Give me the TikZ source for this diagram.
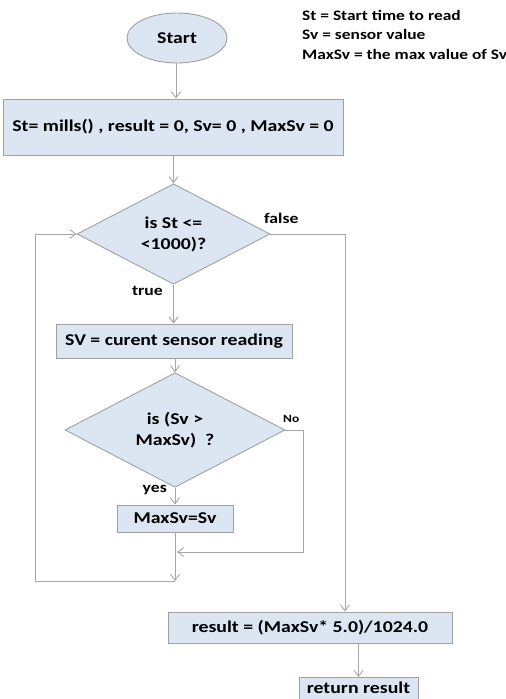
\documentclass[tikz,border=0pt]{standalone}
\usepackage{fontspec}
\setmainfont{Carlito}[FakeStretch=1.2]
\usetikzlibrary{shapes.geometric,arrows.meta,calc}
\definecolor{boxfill}{HTML}{DCE6F2}
\definecolor{boxline}{HTML}{A0A0A0}
\definecolor{conn}{HTML}{A6A6A6}
\tikzset{
  base/.style={draw=boxline, fill=boxfill, line width=0.9pt, font=\fontsize{16.5}{21}\selectfont\bfseries, inner sep=0pt, align=center},
  procbox/.style={base, rectangle},
  decbox/.style={base, diamond},
  termbox/.style={base, ellipse},
  conline/.style={draw=conn, line width=0.9pt},
  arr/.style={conline, -{Straight Barb[length=6pt,width=9pt]}},
  lbl/.style={font=\fontsize{14.7}{16}\selectfont\bfseries, inner sep=0pt}
}
\begin{document}
\begin{tikzpicture}[x=1pt,y=-1pt]
\useasboundingbox (0,0) rectangle (506,699);
\clip (0,0) rectangle (506,699);
\node[termbox, minimum width=100pt, minimum height=50pt] (start) at (177,38) {Start};
\node[anchor=north west, align=left, inner sep=0pt, font=\fontsize{14.5}{19.5}\selectfont\bfseries] (legend) at (302,10)
  {St = Start time to read\\Sv = sensor value\\MaxSv = the max value of Sv};
\node[procbox, minimum width=340pt, minimum height=56pt] (init) at (173,127) {St= mills() , result = 0, Sv= 0 , MaxSv = 0};
\node[decbox, minimum width=193pt, minimum height=88pt] (d1) at (173.5,234) {is St <=\\<1000)?};
\node[procbox, minimum width=236pt, minimum height=34pt] (sv) at (174,341) {SV = curent sensor reading};
\node[decbox, minimum width=220pt, minimum height=78pt] (d2) at (175,430) {is (Sv >\\MaxSv)\ \ ?};
\node[procbox, minimum width=116pt, minimum height=27pt] (mx) at (175,518.5) {MaxSv=Sv};
\node[procbox, minimum width=284pt, minimum height=31pt] (res) at (310,627.5) {result = (MaxSv* 5.0)/1024.0};
\node[procbox, anchor=north, minimum width=119pt, minimum height=30pt] (ret) at (358.5,677) {};
\node[anchor=base, inner sep=0pt, font=\fontsize{16.5}{21}\selectfont\bfseries] (rettext) at (358.5,693) {return result};
\coordinate (fx) at (345,0);
\coordinate (nx) at (303,0);
\coordinate (lx) at (35,0);
\coordinate (j) at (177,552);
\coordinate (c1) at (175,581);
% connectors
\draw[arr] (start.south -| 176,0) -- (init.north -| 176,0);
\draw[arr] (init.south -| d1.north) -- (d1.north);
\draw[arr] (d1.south) -- (sv.north -| d1.south);
\draw[arr] (sv.south -| d2.north) -- (d2.north);
\draw[arr] (d2.south) -- (mx.north -| d2.south);
\draw[arr] (mx.south -| c1) -- (c1);
\draw[arr] (d2.east) -- (d2.east -| nx) |- (j);
\draw[arr] (c1) -- (c1 -| lx) |- (d1.west);
\draw[arr] (d1.east) -| (res.north -| fx);
\draw[arr] (res.south -| ret.north) -- (ret.north);
% labels
\node[lbl, anchor=west] (lfalse) at (264,218) {false};
\node[lbl, anchor=east] (ltrue) at (163,291) {true};
\node[lbl, anchor=east] (lyes) at (167,490) {yes};
\node[lbl, anchor=west, font=\fontsize{11.2}{13}\selectfont\bfseries] (lno) at (283,419) {No};
\end{tikzpicture}
\end{document}
